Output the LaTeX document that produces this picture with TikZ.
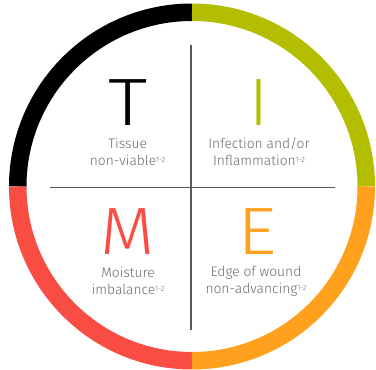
\documentclass[tikz,border=0pt]{standalone}
\usepackage{fontspec}
\setmainfont{Fira Sans}
\newfontfamily\lightfont{Fira Sans Light}
\definecolor{ringgreen}{HTML}{B3BE00}
\definecolor{ringred}{HTML}{F94C42}
\definecolor{ringorange}{HTML}{FFA11D}
\definecolor{divgray}{HTML}{5A5A5A}
\definecolor{txtgray}{HTML}{6A6A6A}
\tikzset{
  ring/.style={line width=17.5pt, line cap=butt},
  divider/.style={draw=divgray, line width=1.2pt},
  bigletter/.style={anchor=base, inner sep=0pt, text height=46pt, text depth=0pt, font=\lightfont\fontsize{67}{67}\selectfont},
  label/.style={anchor=base, inner sep=0pt, text depth=0pt, text=txtgray, font=\lightfont\fontsize{13.8}{13.8}\selectfont},
}
\newcommand{\refsup}{{\fontsize{7.5}{7.5}\selectfont\raisebox{3.8pt}{1-2}}}
\begin{document}
\begin{tikzpicture}[x=1pt,y=1pt]
\useasboundingbox (0,0) rectangle (376,370);
\coordinate (c) at (192,183.5);
% ring
\draw[ring, black] ([shift={(90:174.25)}]c) arc[start angle=90, end angle=180, radius=174.25];
\draw[ring, ringgreen] ([shift={(0:174.25)}]c) arc[start angle=0, end angle=90, radius=174.25];
\draw[ring, ringred] ([shift={(180:174.25)}]c) arc[start angle=180, end angle=270, radius=174.25];
\draw[ring, ringorange] ([shift={(270:174.25)}]c) arc[start angle=270, end angle=360, radius=174.25];
% dividers
\coordinate (vt) at (191,325);
\coordinate (vb) at (191,40);
\coordinate (hl) at (50,182.3);
\coordinate (hr) at (335,182.3);
\draw[divider] (vt) -- (vb);
\draw[divider] (hl) -- (hr);
% letters
\node[bigletter, text=black] (T) at (127.7,244) {\scalebox{1.18}[1]{T}};
\node[bigletter, text=ringgreen] (I) at (259,244) {I};
\node[bigletter, text=ringred] (M) at (128,115) {\scalebox{1.05}[1]{M}};
\node[bigletter, text=ringorange] (E) at (257,115) {\scalebox{1.15}[1]{E}};
% labels
\node[label] (t1) at (127.6,221) {Tissue};
\node[label] (t2) at (127.6,204) {non-viable\refsup};
\node[label] (i1) at (259,221) {Infection and/or};
\node[label] (i2) at (259,204) {Inflammation\refsup};
\node[label] (m1) at (128,92) {Moisture};
\node[label] (m2) at (128,75) {imbalance\refsup};
\node[label] (e1) at (256,93) {Edge of wound};
\node[label] (e2) at (256,76) {non-advancing\refsup};
\end{tikzpicture}
\end{document}
